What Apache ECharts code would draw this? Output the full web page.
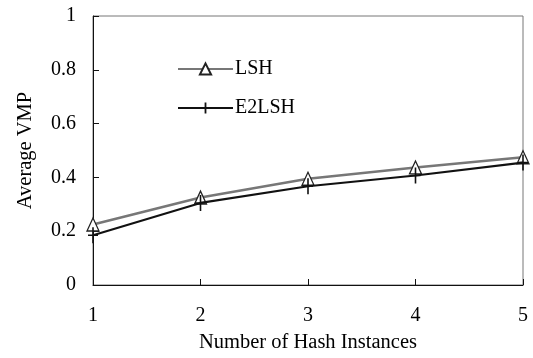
<!DOCTYPE html>
<html>
<head>
<meta charset="utf-8">
<script src="https://cdn.jsdelivr.net/npm/echarts@6/dist/echarts.min.js"></script>
<style>
html,body{margin:0;padding:0;background:#fff;}
#chart{width:533px;height:358px;}
</style>
</head>
<body>
<div id="chart"></div>
<script>
const categories = ['1', '2', '3', '4', '5'];
const lshValues = [0.225, 0.325, 0.395, 0.437, 0.475];
const e2lshValues = [0.185, 0.305, 0.367, 0.407, 0.455];
const seriesNames = ['LSH', 'E2LSH'];
const xAxisTitle = 'Number of Hash Instances';
const yAxisTitle = 'Average VMP';

const FONT = 'Liberation Serif';
const chart = echarts.init(document.getElementById('chart'), null, {renderer: 'canvas'});
const plusPath = 'path://M4.2,0 h1.6 v14 h-1.6 z M0,6.3 h10 v1.4 h-10 z';

chart.setOption({
  animation: false,
  backgroundColor: '#fff',
  grid: {
    left: 93, right: 10, top: 16, bottom: 72,
    show: true, borderColor: '#777', borderWidth: 1, backgroundColor: 'transparent'
  },
  legend: {
    orient: 'vertical',
    left: 172, top: 54,
    itemWidth: 55, itemHeight: 14, itemGap: 19,
    textStyle: {fontFamily: FONT, fontSize: 20, color: '#000', padding: [0, 0, 0, -3]},
    data: seriesNames
  },
  xAxis: {
    type: 'category',
    data: categories,
    boundaryGap: false,
    name: xAxisTitle,
    nameLocation: 'middle',
    nameGap: 47,
    nameTextStyle: {fontFamily: FONT, fontSize: 20.5, color: '#000'},
    axisLine: {lineStyle: {color: '#111', width: 1}},
    axisTick: {inside: true, length: 6, lineStyle: {color: '#111'}},
    axisLabel: {fontFamily: FONT, fontSize: 20, color: '#000', margin: 21},
    splitLine: {show: false}
  },
  yAxis: {
    type: 'value',
    min: 0, max: 1, interval: 0.2,
    name: yAxisTitle,
    nameLocation: 'middle',
    nameGap: 57,
    nameRotate: 90,
    nameTextStyle: {fontFamily: FONT, fontSize: 20.5, color: '#000'},
    axisLine: {show: true, lineStyle: {color: '#111', width: 1}},
    axisTick: {show: true, inside: true, length: 6, lineStyle: {color: '#111'}},
    axisLabel: {fontFamily: FONT, fontSize: 20, color: '#000', margin: 17,
      formatter: v => String(Math.round(v * 10) / 10)},
    splitLine: {show: false}
  },
  series: [
    {
      name: seriesNames[0],
      type: 'line',
      data: lshValues,
      symbol: 'triangle',
      symbolSize: [12, 13],
      showAllSymbol: true,
      lineStyle: {color: '#777', width: 2.5},
      itemStyle: {color: '#fff', borderColor: '#222', borderWidth: 1.3},
      z: 3
    },
    {
      name: seriesNames[1],
      type: 'line',
      data: e2lshValues,
      symbol: plusPath,
      symbolSize: [10, 16],
      showAllSymbol: true,
      lineStyle: {color: '#111', width: 2.2},
      itemStyle: {color: '#111', borderWidth: 0},
      z: 4
    }
  ]
});
</script>
</body>
</html>
